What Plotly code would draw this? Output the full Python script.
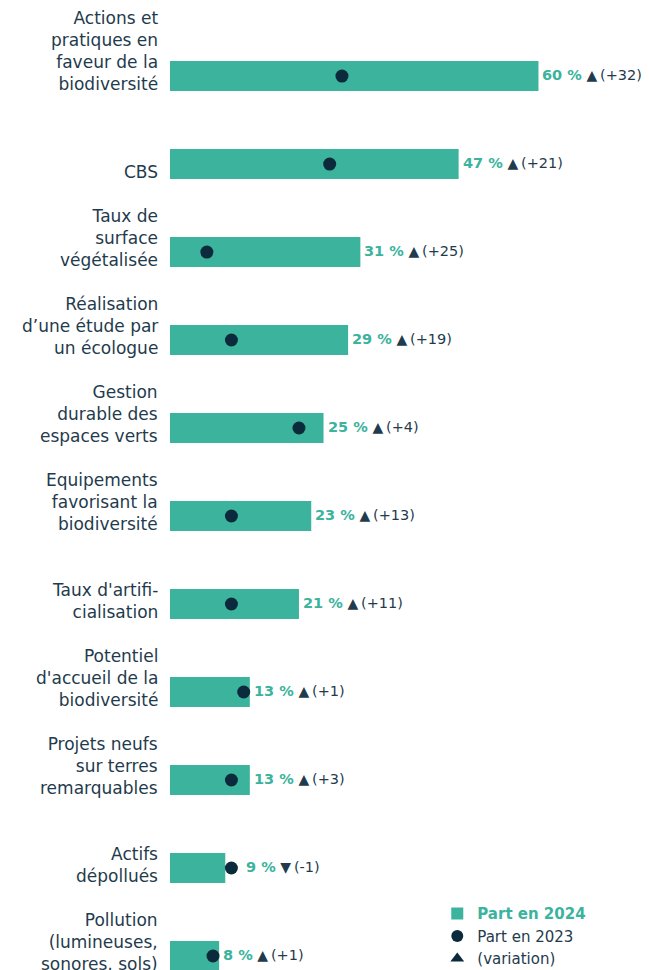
import plotly.graph_objects as go

TEAL = "#3bb39d"
DARK = "#0b2a3c"
TEXT = "#1f3b4d"
FONT = "DejaVu Sans"

categories = [
    "Actions et<br>pratiques en<br>faveur de la<br>biodiversité",
    "CBS",
    "Taux de<br>surface<br>végétalisée",
    "Réalisation<br>d’une étude par<br>un écologue",
    "Gestion<br>durable des<br>espaces verts",
    "Equipements<br>favorisant la<br>biodiversité",
    "Taux d'artifi-<br>cialisation",
    "Potentiel<br>d'accueil de la<br>biodiversité",
    "Projets neufs<br>sur terres<br>remarquables",
    "Actifs<br>dépollués",
    "Pollution<br>(lumineuses,<br>sonores, sols)",
]
part_2024 = [60, 47, 31, 29, 25, 23, 21, 13, 13, 9, 8]
part_2023 = [28, 26, 6, 10, 21, 10, 10, 12, 10, 10, 7]
variation = [32, 21, 25, 19, 4, 13, 11, 1, 3, -1, 1]

fig = go.Figure()
fig.add_trace(go.Bar(
    x=part_2024, y=categories, orientation="h", width=0.34,
    marker=dict(color=TEAL, line=dict(width=0)),
    name="<b><span style='color:%s'>Part en 2024</span></b>" % TEAL,
    hoverinfo="skip",
))
fig.add_trace(go.Scatter(
    x=part_2023, y=categories, mode="markers",
    marker=dict(color=DARK, size=13, line=dict(width=0)),
    name="Part en 2023", hoverinfo="skip",
))
fig.add_trace(go.Scatter(
    x=[None], y=[None], mode="markers",
    marker=dict(color=DARK, size=9, symbol="triangle-up"),
    name="(variation)",
))

annotations = []
for cat, p24, p23, var in zip(categories, part_2024, part_2023, variation):
    annotations.append(dict(
        x=0, xref="paper", y=cat, yref="y", text=cat,
        xanchor="right", yanchor="bottom", align="right",
        xshift=-10, yshift=-20, showarrow=False,
        font=dict(family=FONT, size=17, color=TEXT),
    ))
    arrow = "▲" if var >= 0 else "▼"
    sign = "+" if var >= 0 else "-"
    txt = ("<span style='color:%s'><b>%d\u00a0%%</b></span> "
           "<span style='font-size:14px'>%s</span>\u2009(%s%d)") % (TEAL, p24, arrow, sign, abs(var))
    if p23 > p24:
        x, xs = p23, 13
    else:
        x, xs = p24, 2
    annotations.append(dict(
        x=x, y=cat, xref="x", yref="y", text=txt, xanchor="left",
        yanchor="middle", xshift=xs, yshift=1, showarrow=False,
        font=dict(family=FONT, size=14.5, color=TEXT),
    ))

fig.update_layout(
    width=649, height=970,
    margin=dict(l=170, r=0, t=0, b=0, autoexpand=False),
    paper_bgcolor="white", plot_bgcolor="white",
    font=dict(family=FONT, size=15, color=TEXT),
    barmode="overlay",
    showlegend=True,
    legend=dict(x=0.558, y=0.075, xanchor="left", yanchor="top",
                bgcolor="rgba(0,0,0,0)", tracegroupgap=0,
                itemsizing="constant",
                font=dict(family=FONT, size=15, color=TEXT)),
    xaxis=dict(range=[0, 78.0], visible=False, fixedrange=True),
    yaxis=dict(range=[10.159, -0.864], showticklabels=False, showgrid=False,
               zeroline=False, showline=False, ticks="",
               categoryorder="array", categoryarray=categories),
    annotations=annotations,
)

fig.write_html("out.html")
